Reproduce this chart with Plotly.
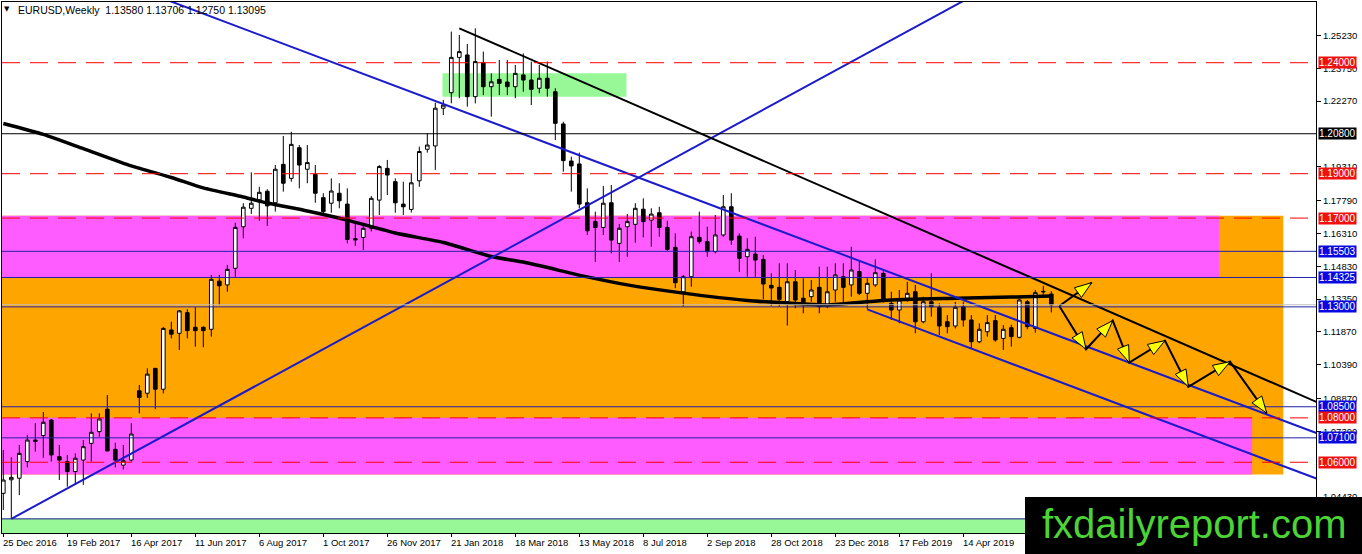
import numpy as np
import pandas as pd
import plotly.graph_objects as go

FONT = "Liberation Sans"

# ---------------- data ----------------
BASE_DATE = "2016-12-25"          # first weekly bar
opens = [1.0460, 1.0521, 1.0528, 1.0603, 1.0700, 1.0720, 1.0790, 1.0625, 1.0603, 1.0558,
         1.0610, 1.0685, 1.0738, 1.0839, 1.0658, 1.0587, 1.0610, 1.0922, 1.0911, 1.1023,
         1.0929, 1.1196, 1.1181, 1.1274, 1.1208, 1.1208, 1.1199, 1.1416, 1.1399, 1.1474,
         1.1661, 1.1744, 1.1782, 1.1821, 1.1769, 1.1942, 1.1879, 1.2017, 1.1920, 1.1897,
         1.1792, 1.1767, 1.1812, 1.1763, 1.1607, 1.1613, 1.1654, 1.1781, 1.1924, 1.1864,
         1.1763, 1.1739, 1.1868, 1.2010, 1.2025, 1.2195, 1.2265, 1.2424, 1.2435, 1.2247,
         1.2400, 1.2292, 1.2325, 1.2313, 1.2292, 1.2345, 1.2322, 1.2285, 1.2330, 1.2269,
         1.2124, 1.1957, 1.1944, 1.1769, 1.1684, 1.1658, 1.1769, 1.1586, 1.1661, 1.1672,
         1.1740, 1.1691, 1.1724, 1.1658, 1.1568, 1.1368, 1.1436, 1.1613, 1.1594, 1.1549,
         1.1624, 1.1751, 1.1619, 1.1526, 1.1538, 1.1514, 1.1397, 1.1388, 1.1323, 1.1413,
         1.1339, 1.1346, 1.1388, 1.1308, 1.1376, 1.1436, 1.1399, 1.1459, 1.1361, 1.1399,
         1.1451, 1.1316, 1.1286, 1.1339, 1.1368, 1.1233, 1.1323, 1.1298, 1.1233, 1.1214,
         1.1301, 1.1241, 1.1143, 1.1188, 1.1238, 1.1158, 1.1206, 1.1163, 1.1323, 1.1203,
         1.1370, 1.13580]
highs = [1.0655, 1.0622, 1.0678, 1.0723, 1.0776, 1.0826, 1.0795, 1.0678, 1.0633, 1.0640,
         1.0700, 1.0820, 1.0820, 1.0903, 1.0688, 1.0678, 1.0776, 1.0948, 1.1023, 1.1025,
         1.1210, 1.1233, 1.1286, 1.1290, 1.1298, 1.1212, 1.1444, 1.1444, 1.1489, 1.1679,
         1.1767, 1.1906, 1.1841, 1.1830, 1.1939, 1.2070, 1.2089, 1.2029, 1.2029, 1.1939,
         1.1812, 1.1879, 1.1857, 1.1834, 1.1680, 1.1676, 1.1799, 1.1939, 1.1962, 1.1879,
         1.1864, 1.1899, 1.2022, 1.2082, 1.2220, 1.2232, 1.2540, 1.2525, 1.2484, 1.2555,
         1.2450, 1.2352, 1.2412, 1.2412, 1.2390, 1.2442, 1.2405, 1.2390, 1.2405, 1.2285,
         1.2134, 1.1977, 1.1995, 1.1834, 1.1729, 1.1845, 1.1849, 1.1673, 1.1718, 1.1767,
         1.1789, 1.1744, 1.1751, 1.1688, 1.1631, 1.1444, 1.1639, 1.1729, 1.1661, 1.1714,
         1.1804, 1.1812, 1.1631, 1.1609, 1.1616, 1.1534, 1.1451, 1.1496, 1.1496, 1.1466,
         1.1429, 1.1421, 1.1481, 1.1481, 1.1496, 1.1496, 1.1571, 1.1503, 1.1429, 1.1514,
         1.1460, 1.1368, 1.1376, 1.1413, 1.1399, 1.1346, 1.1451, 1.1316, 1.1263, 1.1323,
         1.1323, 1.1263, 1.1226, 1.1263, 1.1263, 1.1218, 1.1220, 1.1339, 1.1331, 1.1376,
         1.1395, 1.13706]
lows = [1.0385, 1.0345, 1.0452, 1.0577, 1.0648, 1.0620, 1.0603, 1.0520, 1.0490, 1.0498,
        1.0498, 1.0603, 1.0715, 1.0650, 1.0577, 1.0568, 1.0603, 1.0820, 1.0890, 1.0839,
        1.0910, 1.1158, 1.1106, 1.1158, 1.1121, 1.1118, 1.1166, 1.1308, 1.1368, 1.1436,
        1.1609, 1.1718, 1.1688, 1.1665, 1.1729, 1.1819, 1.1864, 1.1834, 1.1857, 1.1769,
        1.1718, 1.1724, 1.1744, 1.1586, 1.1575, 1.1556, 1.1640, 1.1714, 1.1804, 1.1724,
        1.1714, 1.1725, 1.1841, 1.1995, 1.1917, 1.2164, 1.2217, 1.2240, 1.2202, 1.2217,
        1.2254, 1.2157, 1.2254, 1.2254, 1.2240, 1.2269, 1.2209, 1.2262, 1.2247, 1.2052,
        1.1909, 1.1819, 1.1744, 1.1624, 1.1503, 1.1624, 1.1541, 1.1503, 1.1526, 1.1589,
        1.1613, 1.1571, 1.1616, 1.1553, 1.1384, 1.1301, 1.1391, 1.1585, 1.1526, 1.1541,
        1.1616, 1.1579, 1.1458, 1.1436, 1.1436, 1.1334, 1.1304, 1.1301, 1.1216, 1.1294,
        1.1271, 1.1323, 1.1271, 1.1294, 1.1323, 1.1313, 1.1346, 1.1353, 1.1290, 1.1390,
        1.1320, 1.1241, 1.1226, 1.1323, 1.1181, 1.1226, 1.1256, 1.1173, 1.1181, 1.1203,
        1.1211, 1.1113, 1.1136, 1.1166, 1.1143, 1.1106, 1.1121, 1.1158, 1.1199, 1.1184,
        1.1355, 1.12750]
closes = [1.0520, 1.0532, 1.0640, 1.0700, 1.0694, 1.0780, 1.0633, 1.0610, 1.0558, 1.0618,
          1.0670, 1.0735, 1.0795, 1.0651, 1.0610, 1.0607, 1.0727, 1.0892, 1.0997, 1.0929,
          1.1203, 1.1177, 1.1282, 1.1193, 1.1193, 1.1193, 1.1424, 1.1395, 1.1469, 1.1658,
          1.1749, 1.1767, 1.1816, 1.1755, 1.1920, 1.1857, 1.2032, 1.1939, 1.1950, 1.1812,
          1.1729, 1.1822, 1.1778, 1.1604, 1.1602, 1.1654, 1.1789, 1.1932, 1.1894, 1.1769,
          1.1751, 1.1859, 1.2000, 1.2029, 1.2195, 1.2209, 1.2424, 1.2450, 1.2247, 1.2405,
          1.2292, 1.2314, 1.2307, 1.2292, 1.2352, 1.2322, 1.2280, 1.2330, 1.2285, 1.2127,
          1.1959, 1.1935, 1.1763, 1.1643, 1.1658, 1.1767, 1.1601, 1.1654, 1.1684, 1.1744,
          1.1684, 1.1718, 1.1658, 1.1559, 1.1409, 1.1436, 1.1616, 1.1594, 1.1549, 1.1624,
          1.1751, 1.1601, 1.1519, 1.1559, 1.1511, 1.1403, 1.1385, 1.1334, 1.1413, 1.1331,
          1.1316, 1.1376, 1.1301, 1.1368, 1.1444, 1.1388, 1.1466, 1.1361, 1.1406, 1.1454,
          1.1328, 1.1286, 1.1331, 1.1361, 1.1233, 1.1323, 1.1301, 1.1214, 1.1211, 1.1298,
          1.1241, 1.1143, 1.1199, 1.1229, 1.1151, 1.1199, 1.1166, 1.1331, 1.1211, 1.1364,
          1.1368, 1.13095]

# moving average (thick black curve), sampled at bar numbers
ma_weeks = [0, 5, 10, 16, 21, 25, 30, 33, 38, 43, 49, 55, 61, 65, 73, 78, 85, 93, 100, 103,
            110, 118, 126, 131]
ma_values = [1.2126, 1.2077, 1.2013, 1.1935, 1.1883, 1.1836, 1.1795, 1.1768, 1.1732, 1.1691,
             1.1633, 1.1590, 1.1527, 1.1502, 1.1435, 1.1399, 1.1362, 1.1329, 1.1313, 1.1308,
             1.1329, 1.1338, 1.1344, 1.1349]

# horizontal levels
level_prices = [1.24, 1.208, 1.19, 1.17, 1.15503, 1.14325, 1.13, 1.085, 1.08, 1.071, 1.06, 1.0345]
level_colors = ["#FF0000", "#000000", "#FF0000", "#FF0000", "#2020A8", "#2020A8", "#2020A8",
                "#2020A8", "#FF0000", "#2020A8", "#FF0000", "#1A1A8C"]
level_dashed = [True, False, True, True, False, False, False, False, True, False, True, False]
label_prices = [1.24, 1.208, 1.19, 1.17, 1.15503, 1.14325, 1.13, 1.085, 1.08, 1.071, 1.06]
label_bgs = ["#F01010", "#000000", "#F01010", "#F01010", "#0808E0", "#0808E0", "#0808E0",
             "#0808E0", "#F01010", "#0808E0", "#F01010"]
bid_price = 1.13095

# trend lines: (start bar, start price) -> (second bar, second price)
trend_w0 = [0, 108, 1, 57]
trend_p0 = [1.29606, 1.1289, 1.0345, 1.2555]
trend_w1 = [130, 158, 101, 157]
trend_p1 = [1.11952, 1.0610, 1.23057, 1.09841]
trend_colors = ["#1B1BCC", "#1B1BCC", "#1B1BCC", "#000000"]
trend_both_ways = [True, False, False, False]

# rectangles (bar from, bar to, price low, price high, colour)
rect_w0 = [-2, -2, -2, 54.9, -2]
rect_w1 = [160.0, 152.0, 156.1, 77.9, 170]
rect_lo = [1.0545, 1.14325, 1.0545, 1.2247, 1.0200]
rect_hi = [1.1710, 1.1710, 1.0800, 1.2352, 1.0345]
rect_colors = ["#FFA500", "#FF5CFF", "#FF5CFF", "#98F898", "#98F898"]

# projected zig-zag (bar number, price)
up_path_w = [132.0, 136.05]
up_path_p = [1.1304, 1.1409]
zig_w = [132.0, 135.34, 138.68, 140.75, 145.21, 148.13, 153.34, 157.93]
zig_p = [1.1304, 1.1109, 1.1238, 1.1049, 1.1148, 1.0940, 1.1053, 1.0821]

# axis labels (those fully hidden behind the level tags are left out)
y_tick_vals = [1.2523, 1.2375, 1.2227, 1.1931, 1.1779, 1.1631, 1.1483, 1.1335,
               1.1187, 1.1039, 1.0887, 1.0739, 1.0443]
x_tick_labels = ["25 Dec 2016", "19 Feb 2017", "16 Apr 2017", "11 Jun 2017", "6 Aug 2017",
                 "1 Oct 2017", "26 Nov 2017", "21 Jan 2018", "18 Mar 2018", "13 May 2018",
                 "8 Jul 2018", "2 Sep 2018", "28 Oct 2018", "23 Dec 2018", "17 Feb 2019",
                 "14 Apr 2019"]
title_text = "EURUSD,Weekly  1.13580 1.13706 1.12750 1.13095"

# ---------------- helpers ----------------
base = pd.Timestamp(BASE_DATE)


def wk(w):
    return base + pd.to_timedelta(float(w) * 7, unit="D")


def ws(w):
    return wk(w).strftime("%Y-%m-%d %H:%M:%S")


X_LO_W, X_HI_W = -0.1625, 164.0875
Y_LO, Y_HI = 1.02813, 1.26735
W, H = 1362, 554
M_L, M_R, M_T, M_B = 2, 46, 2, 21
PW, PH = W - M_L - M_R, H - M_T - M_B
px_per_week = PW / (X_HI_W - X_LO_W)
px_per_price = PH / (Y_HI - Y_LO)

dates = [ws(i) for i in range(len(opens))]

fig = go.Figure()

fig.add_trace(go.Candlestick(
    x=dates, open=opens, high=highs, low=lows, close=closes,
    increasing=dict(line=dict(color="black", width=1), fillcolor="white"),
    decreasing=dict(line=dict(color="black", width=1), fillcolor="black"),
    whiskerwidth=0, showlegend=False, hoverinfo="skip"))

fig.add_trace(go.Scatter(x=[ws(w) for w in ma_weeks], y=ma_values, mode="lines",
                         line=dict(color="black", width=3.5, shape="spline", smoothing=0.6),
                         showlegend=False, hoverinfo="skip"))

for w0, p0, w1, p1, col, both in zip(trend_w0, trend_p0, trend_w1, trend_p1,
                                     trend_colors, trend_both_ways):
    slope = (p1 - p0) / (w1 - w0)
    ws_ = X_LO_W - 2 if both else w0
    we_ = X_HI_W + 2
    fig.add_trace(go.Scatter(x=[ws(ws_), ws(we_)],
                             y=[p0 + slope * (ws_ - w0), p0 + slope * (we_ - w0)],
                             mode="lines", line=dict(color=col, width=2),
                             showlegend=False, hoverinfo="skip"))

shapes = []
for a, b, lo, hi, col in zip(rect_w0, rect_w1, rect_lo, rect_hi, rect_colors):
    shapes.append(dict(type="rect", xref="x", yref="y", x0=ws(a), x1=ws(b), y0=lo, y1=hi,
                       fillcolor=col, line=dict(width=0), layer="below"))

for p, col, dashed in zip(level_prices, level_colors, level_dashed):
    shapes.append(dict(type="line", xref="paper", yref="y", x0=0, x1=1, y0=p, y1=p,
                       line=dict(color=col, width=1, dash="18px,10px" if dashed else "solid"),
                       layer="above"))
shapes.append(dict(type="line", xref="paper", yref="y", x0=0, x1=1, y0=bid_price, y1=bid_price,
                   line=dict(color="#C0C0C0", width=1), layer="above"))

# zig-zag arrows
for pw, pp in ((up_path_w, up_path_p), (zig_w, zig_p)):
    fig.add_trace(go.Scatter(x=[ws(w) for w in pw], y=pp, mode="lines",
                             line=dict(color="black", width=2),
                             showlegend=False, hoverinfo="skip"))
    for i in range(1, len(pw)):
        dx = (pw[i] - pw[i - 1]) * px_per_week
        dy = (pp[i] - pp[i - 1]) * px_per_price
        n = np.hypot(dx, dy)
        ux, uy = dx / n, dy / n
        L, Wd = 17, 6
        bx, by = -L * ux, -L * uy
        c1 = (bx - Wd * uy, by + Wd * ux)
        c2 = (bx + Wd * uy, by - Wd * ux)
        path = f"M0,0 L{c1[0]:.2f},{c1[1]:.2f} L{c2[0]:.2f},{c2[1]:.2f} Z"
        shapes.append(dict(type="path", xref="x", yref="y", xsizemode="pixel",
                           ysizemode="pixel", xanchor=ws(pw[i]), yanchor=pp[i], path=path,
                           fillcolor="#FFFF00", line=dict(color="black", width=1),
                           layer="above"))

# logo box
def px2paper_x(px):
    return (px - M_L) / PW


def px2paper_y(py):
    return (M_T + PH - py) / PH


shapes.append(dict(type="rect", xref="paper", yref="paper",
                   x0=px2paper_x(1025), x1=px2paper_x(1364),
                   y0=px2paper_y(556), y1=px2paper_y(497),
                   fillcolor="black", line=dict(width=0), layer="above"))

annotations = []
for p, bg in zip(label_prices, label_bgs):
    annotations.append(dict(x=1, xref="paper", y=p, yref="y", xanchor="left",
                            yanchor="middle", xshift=2, text=f"{p:.5f}", showarrow=False,
                            font=dict(color="white", size=10, family=FONT), bgcolor=bg,
                            borderpad=0))

for k, lab in enumerate(x_tick_labels):
    annotations.append(dict(x=ws(8 * k), xref="x", y=0, yref="paper", xanchor="left",
                            yanchor="top", xshift=-2, yshift=-2, text=lab, showarrow=False,
                            font=dict(color="black", size=9.5, family=FONT)))

annotations.append(dict(x=px2paper_x(7), xref="paper", y=px2paper_y(9), yref="paper",
                        xanchor="center", yanchor="middle", text="▼", showarrow=False,
                        font=dict(color="black", size=7, family="DejaVu Sans")))
annotations.append(dict(x=px2paper_x(16), xref="paper", y=px2paper_y(10), yref="paper",
                        xanchor="left", yanchor="middle", text=title_text, showarrow=False,
                        font=dict(color="black", size=10.5, family=FONT)))
annotations.append(dict(x=px2paper_x(1194), xref="paper", y=px2paper_y(524), yref="paper",
                        xanchor="center", yanchor="middle", text="fxdailyreport.com",
                        showarrow=False,
                        font=dict(color="#4CD436", size=40, family="Liberation Sans")))

fig.update_layout(
    width=W, height=H, margin=dict(l=M_L, r=M_R, t=M_T, b=M_B, pad=0),
    paper_bgcolor="white", plot_bgcolor="white",
    shapes=shapes, annotations=annotations, boxgap=0.35,
    xaxis=dict(type="date", range=[ws(X_LO_W), ws(X_HI_W)], showgrid=False, zeroline=False,
               rangeslider=dict(visible=False), showline=True, linecolor="black",
               linewidth=1, mirror=True, ticks="outside", ticklen=3, tickcolor="black",
               tickvals=[ws(8 * k) for k in range(len(x_tick_labels))],
               showticklabels=False),
    yaxis=dict(range=[Y_LO, Y_HI], side="right", showgrid=False, zeroline=False,
               showline=True, linecolor="black", linewidth=1, mirror=True,
               ticks="outside", ticklen=4, tickcolor="black",
               tickvals=y_tick_vals, ticktext=[f"{v:.5f}" for v in y_tick_vals],
               tickfont=dict(family=FONT, size=9.5, color="black")),
    hovermode=False,
)

fig.write_html("out.html",
               config={"displayModeBar": False, "staticPlot": True},
               post_script="document.body.style.margin='0';"
                           "document.body.style.overflow='hidden';")
